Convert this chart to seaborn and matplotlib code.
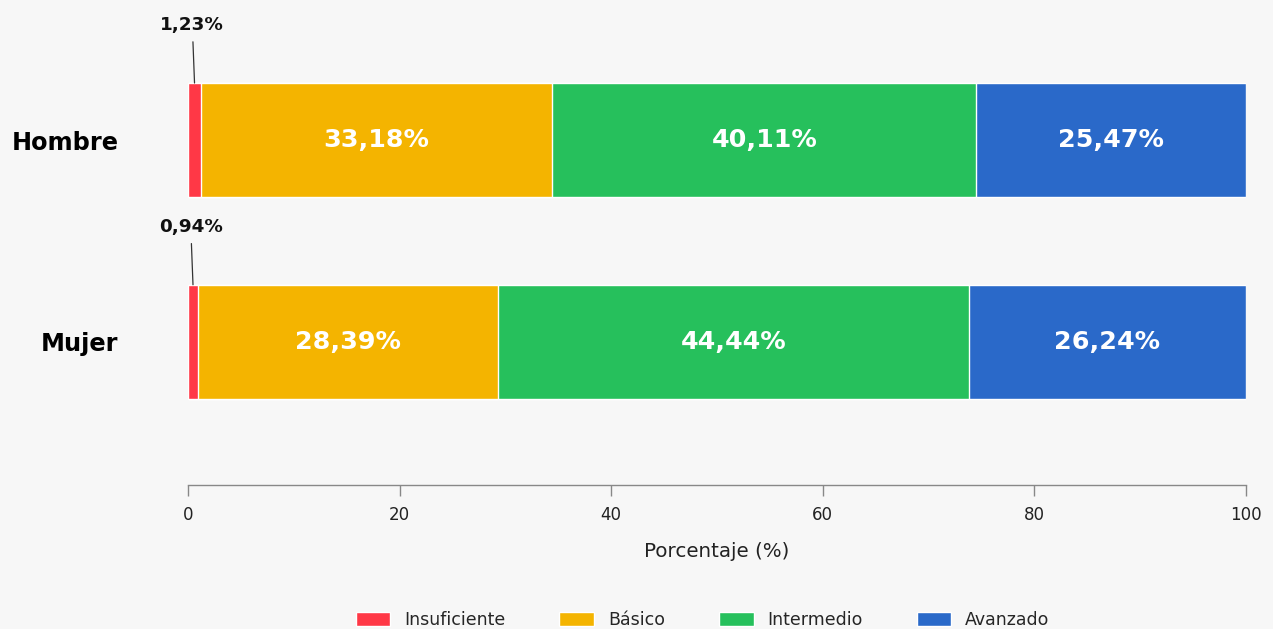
#!/usr/bin/env python3
"""Stacked horizontal bars: performance level by sex."""

import matplotlib

matplotlib.use("Agg")

import matplotlib.pyplot as plt
import matplotlib.patches as mpatches
import numpy as np
import pandas as pd
import seaborn as sns

GROUPS = ["Hombre", "Mujer"]
LEVELS = ["Insuficiente", "Básico", "Intermedio", "Avanzado"]
INSUFICIENTE = [1.23, 0.94]
BASICO = [33.18, 28.39]
INTERMEDIO = [40.11, 44.44]
AVANZADO = [25.47, 26.24]
COLORS = ["#ff3846", "#f4b400", "#26c05c", "#2a69c9"]

BG = "#f7f7f7"


def fmt(v: float) -> str:
    return f"{v:.2f}".replace(".", ",") + "%"


def main() -> None:
    sns.set_theme(style="white")
    plt.rcParams["font.family"] = ["DejaVu Sans"]

    values = np.array([INSUFICIENTE, BASICO, INTERMEDIO, AVANZADO])
    cum = values.cumsum(axis=0)
    starts = cum - values

    fig = plt.figure(figsize=(12.73, 6.29), dpi=100, facecolor=BG)
    ax = fig.add_axes([0.1477, 0.2289, 0.8311, 0.757])
    ax.set_facecolor(BG)

    bar_h = 0.565
    # draw cumulative bars from the outermost level inwards so they stack
    for i in range(len(LEVELS) - 1, -1, -1):
        df = pd.DataFrame({"grupo": GROUPS, "valor": cum[i]})
        sns.barplot(
            data=df, x="valor", y="grupo", orient="h", color=COLORS[i],
            saturation=1, width=bar_h, edgecolor="white", linewidth=1, ax=ax,
        )

    for j, group in enumerate(GROUPS):
        for i in range(len(LEVELS)):
            v = values[i, j]
            mid = starts[i, j] + v / 2
            if v >= 5:
                ax.text(mid, j, fmt(v), ha="center", va="center", color="white",
                        fontsize=18.3, fontweight="bold")
            else:
                ax.annotate(
                    fmt(v), xy=(mid, j - bar_h / 2), xytext=(-1.6, 41.5),
                    textcoords="offset points", ha="center", va="center",
                    fontsize=13.2, fontweight="bold", color="#111111",
                    arrowprops=dict(arrowstyle="-", color="#333333", lw=0.9,
                                    shrinkA=3, shrinkB=0),
                )

    ax.set_xlim(0, 100)
    ax.set_ylim(1.71, -0.65)
    ax.set_xticks([0, 20, 40, 60, 80, 100])
    ax.set_xlabel("Porcentaje (%)", fontsize=14.3, color="#222222", labelpad=13)
    ax.set_ylabel("")
    ax.tick_params(axis="x", length=8, width=1, color="#888888", labelsize=12,
                   labelcolor="#222222", pad=7, bottom=True)
    ax.tick_params(axis="y", length=0, pad=50, labelsize=17.3)
    for lbl in ax.get_yticklabels():
        lbl.set_fontweight("bold")
        lbl.set_color("black")

    for side in ["top", "right", "left"]:
        ax.spines[side].set_visible(False)
    ax.spines["bottom"].set_color("#888888")
    ax.spines["bottom"].set_linewidth(1)

    handles = [mpatches.Patch(facecolor=c, edgecolor="white", label=l)
               for c, l in zip(COLORS, LEVELS)]
    fig.legend(
        handles=handles, loc="center", bbox_to_anchor=(0.552, 0.0143), ncol=4,
        frameon=False, fontsize=12.5, handlelength=2.0, handleheight=0.85,
        handletextpad=0.8, columnspacing=3.1,
    )

    fig.savefig("out.png", dpi=100, facecolor=BG)
    plt.close(fig)


if __name__ == "__main__":
    main()
